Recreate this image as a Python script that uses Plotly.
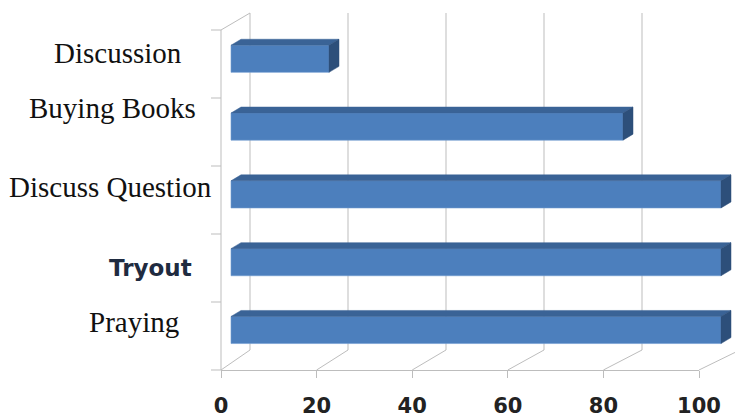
import plotly.graph_objects as go

# ---------------- data ----------------
categories = ["Praying", "Tryout", "Discuss Question", "Buying Books", "Discussion"]
values = [100, 100, 100, 80, 20]
x_ticks = [0, 20, 40, 60, 80, 100]

# ---------------- geometry / style ----------------
W, H = 735, 417
BAR_X0, BAR_PX = 231, 4.9      # pixel of value 0 on bar plane, px per unit
CAT_Y0, CAT_PX = 330, 67.8     # pixel of first category centre, px per category
BAR_W = 0.4
DEPTH_DX, DEPTH_DY = 10, 6     # bar depth in px (right, up)

FRONT_X0, FRONT_X100 = 221, 699
FRONT_FLOOR, FRONT_TOP = 370, 30
BACK_X0, BACK_PX = 250, 4.9
BACK_FLOOR, BACK_TOP = 350, 13

GRID = "#BDBDBD"
FRONT_C = "#4C7FBD"
TOP_C = "#3A6396"
SIDE_C = "#2D4F7A"

label_pos = {  # right edge x, vertical centre y (px)
    "Discussion": (183, 53),
    "Buying Books": (197, 108),
    "Discuss Question": (213, 187),
    "Tryout": (193, 268),
    "Praying": (180, 322),
}


def xf(v):
    return FRONT_X0 + (FRONT_X100 - FRONT_X0) * v / 100.0


def xb(v):
    return BACK_X0 + BACK_PX * v


fig = go.Figure()

# ---- frame (pixel space, axes x / y) ----
fx, fy = [], []
for v in x_ticks:
    fx += [xb(v), xb(v), None, xf(v), xb(v), None]
    fy += [BACK_TOP, BACK_FLOOR, None, FRONT_FLOOR, BACK_FLOOR, None]
fx += [xf(0), xf(0), None, xf(0), xb(0), None]
fy += [FRONT_TOP, FRONT_FLOOR, None, FRONT_TOP, BACK_TOP, None]
n = len(categories)
for k in range(n + 1):
    yy = FRONT_FLOOR - k * (FRONT_FLOOR - FRONT_TOP) / n
    fx += [xf(0) - 10, xf(0), None]
    fy += [yy, yy, None]
fig.add_trace(go.Scatter(x=fx, y=fy, mode="lines", line=dict(color=GRID, width=1),
                         hoverinfo="skip", showlegend=False, xaxis="x", yaxis="y"))

# ---- bars (data space, axes x2 / y2) ----
ypos = list(range(n))
fig.add_trace(go.Bar(x=values, y=ypos, orientation="h", width=BAR_W,
                     marker=dict(color=FRONT_C, line=dict(color="#6E9AD0", width=0.6)),
                     hovertext=categories, hoverinfo="text+x",
                     showlegend=False, xaxis="x2", yaxis="y2"))

dx = DEPTH_DX / BAR_PX
dy = DEPTH_DY / CAT_PX
tx, ty, sx, sy = [], [], [], []
for i, v in zip(ypos, values):
    yt, yb = i + BAR_W / 2, i - BAR_W / 2
    tx += [0, v, v + dx, dx, 0, None]
    ty += [yt, yt, yt + dy, yt + dy, yt, None]
    sx += [v, v + dx, v + dx, v, v, None]
    sy += [yt, yt + dy, yb + dy, yb, yt, None]
fig.add_trace(go.Scatter(x=tx, y=ty, mode="lines", fill="toself", fillcolor=TOP_C,
                         line=dict(color=TOP_C, width=0.5), hoverinfo="skip",
                         showlegend=False, xaxis="x2", yaxis="y2"))
fig.add_trace(go.Scatter(x=sx, y=sy, mode="lines", fill="toself", fillcolor=SIDE_C,
                         line=dict(color=SIDE_C, width=0.5), hoverinfo="skip",
                         showlegend=False, xaxis="x2", yaxis="y2"))

# ---- front value axis (x3 / y3) ----
fig.add_trace(go.Scatter(x=[x_ticks[0], x_ticks[-1]], y=[0, 0], mode="markers",
                         marker=dict(opacity=0), hoverinfo="skip", showlegend=False,
                         xaxis="x3", yaxis="y3"))

# ---- category labels ----
for c in categories:
    px_, py_ = label_pos[c]
    if c == "Tryout":
        font = dict(family="DejaVu Sans", size=23, color="#1F2B40", weight="bold")
    else:
        font = dict(family="Liberation Serif", size=29, color="#111111")
    fig.add_annotation(x=px_, y=py_, xref="x", yref="y", text=c, showarrow=False,
                       xanchor="right", yanchor="middle", font=font, borderpad=0)

fig.update_layout(
    width=W, height=H, autosize=False,
    margin=dict(l=0, r=0, t=0, b=0, pad=0, autoexpand=False),
    showlegend=False,
    paper_bgcolor="white", plot_bgcolor="rgba(0,0,0,0)",
    xaxis=dict(range=[0, W], domain=[0, 1], visible=False, fixedrange=True, automargin=False),
    yaxis=dict(range=[H, 0], domain=[0, 1], visible=False, fixedrange=True, automargin=False),
    xaxis2=dict(range=[-BAR_X0 / BAR_PX, (W - BAR_X0) / BAR_PX], overlaying="x",
                visible=False, fixedrange=True, automargin=False),
    yaxis2=dict(range=[(CAT_Y0 - H) / CAT_PX, CAT_Y0 / CAT_PX], overlaying="y",
                visible=False, fixedrange=True, automargin=False),
    xaxis3=dict(domain=[FRONT_X0 / W, FRONT_X100 / W], range=[0, 100], anchor="y3",
                tickvals=x_ticks, ticktext=[str(t) for t in x_ticks],
                showline=True, linecolor=GRID, linewidth=1,
                ticks="outside", ticklen=7, tickcolor=GRID, showgrid=False, zeroline=False,
                ticklabelstandoff=10, automargin=False,
                tickfont=dict(family="DejaVu Sans", size=21, color="#222222", weight="bold"),
                fixedrange=True),
    yaxis3=dict(domain=[(H - FRONT_FLOOR) / H, (H - FRONT_TOP) / H], range=[0, 1],
                anchor="x3", visible=False, fixedrange=True, automargin=False),
)

fig.write_html("out.html", config={"responsive": False, "displayModeBar": False})
